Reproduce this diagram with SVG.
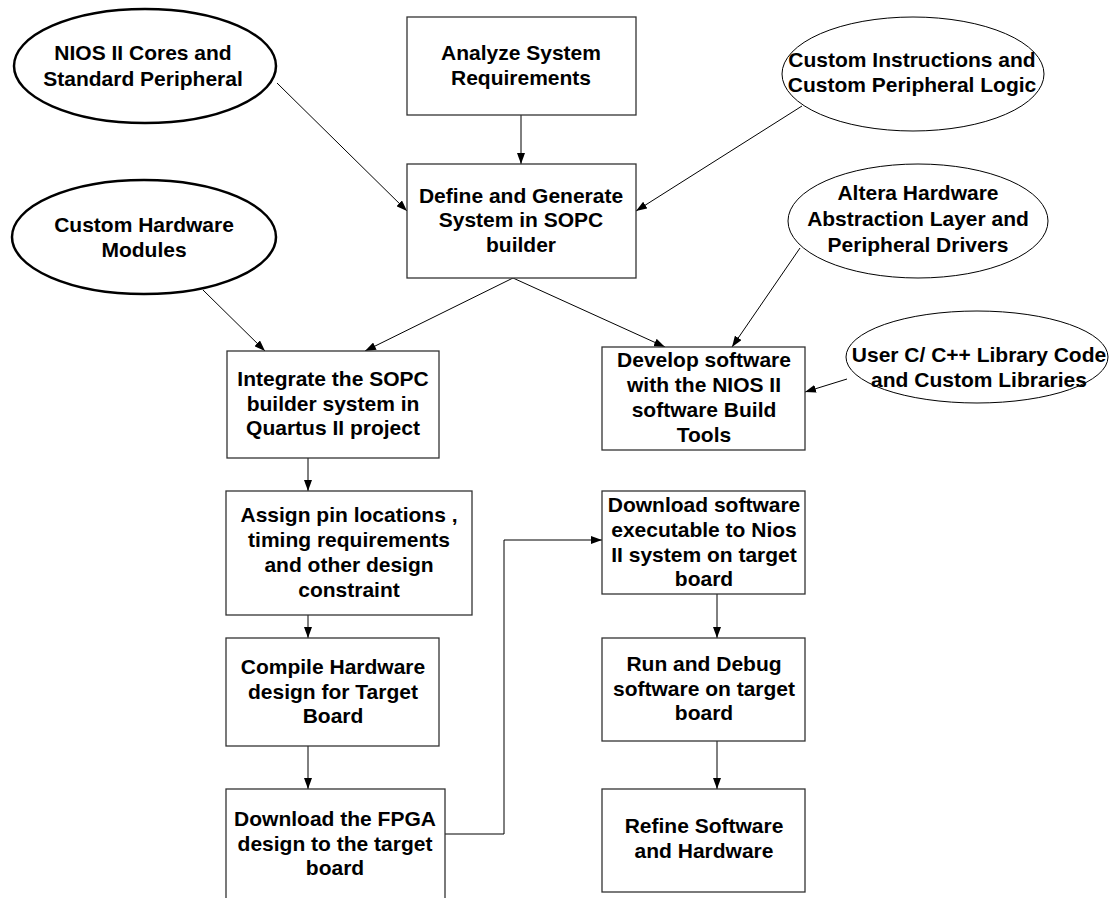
<svg xmlns="http://www.w3.org/2000/svg" width="1110" height="898" viewBox="0 0 1110 898">
<style>
.box{fill:#fff;stroke:#333;stroke-width:1.3}
.ell{fill:#fff;stroke:#000;stroke-width:1}
.ellb{fill:#fff;stroke:#000;stroke-width:2.5}
text{font-family:"Liberation Sans",Arial,sans-serif;font-size:21px;font-weight:bold;text-anchor:middle;fill:#000}
.c{fill:none;stroke:#000;stroke-width:1;marker-end:url(#ah)}
</style>
<defs>
<marker id="ah" markerUnits="userSpaceOnUse" markerWidth="11" markerHeight="8" refX="11" refY="4" orient="auto">
<path d="M0,0 L11,4 L0,8 z" fill="#000"/>
</marker>
</defs>
<rect width="1110" height="898" fill="#fff"/>
<g id="connectors">
<line class="c" x1="521" y1="115" x2="521" y2="164"/>
<line class="c" x1="277" y1="83" x2="407" y2="211"/>
<line class="c" x1="802" y1="106" x2="636" y2="211"/>
<line class="c" x1="513" y1="278" x2="365" y2="351"/>
<line class="c" x1="513" y1="278" x2="665" y2="347"/>
<line class="c" x1="203" y1="290" x2="265" y2="351"/>
<line class="c" x1="800" y1="248" x2="732" y2="347"/>
<line class="c" x1="847" y1="379" x2="805" y2="392"/>
<line class="c" x1="308" y1="445" x2="308" y2="491"/>
<line class="c" x1="308" y1="595" x2="308" y2="638"/>
<line class="c" x1="308" y1="733" x2="308" y2="789"/>
<polyline class="c" points="445,834 504,834 504,540 602,540"/>
<line class="c" x1="717" y1="587" x2="717" y2="638"/>
<line class="c" x1="717" y1="736" x2="717" y2="789"/>
</g>
<g id="nios">
<ellipse class="ellb" cx="145" cy="66" rx="131" ry="57"/>
<text x="143" y="60">NIOS II Cores and</text>
<text x="143" y="86">Standard Peripheral</text>
</g>
<g id="analyze">
<rect class="box" x="407" y="17" width="229" height="98"/>
<text x="521" y="60">Analyze System</text>
<text x="521" y="85">Requirements</text>
</g>
<g id="custominstr">
<ellipse class="ell" cx="913" cy="74" rx="131" ry="57"/>
<text x="912" y="67">Custom Instructions and</text>
<text x="912" y="92">Custom Peripheral Logic</text>
</g>
<g id="define">
<rect class="box" x="407" y="164" width="229" height="114"/>
<text x="521" y="203">Define and Generate</text>
<text x="521" y="227">System in SOPC</text>
<text x="521" y="252">builder</text>
</g>
<g id="customhw">
<ellipse class="ellb" cx="144" cy="237" rx="132" ry="57"/>
<text x="144" y="232">Custom Hardware</text>
<text x="144" y="257">Modules</text>
</g>
<g id="altera">
<ellipse class="ell" cx="918" cy="221" rx="130" ry="57"/>
<text x="918" y="200">Altera Hardware</text>
<text x="918" y="226">Abstraction Layer and</text>
<text x="918" y="252">Peripheral Drivers</text>
</g>
<g id="integrate">
<rect class="box" x="227" y="351" width="212" height="107"/>
<text x="333" y="386">Integrate the SOPC</text>
<text x="333" y="411">builder system in</text>
<text x="333" y="435">Quartus II project</text>
</g>
<g id="develop">
<rect class="box" x="602" y="347" width="203" height="103"/>
<text x="704" y="367">Develop software</text>
<text x="704" y="392">with the NIOS II</text>
<text x="704" y="417">software Build</text>
<text x="704" y="442">Tools</text>
</g>
<g id="userc">
<ellipse class="ell" cx="977" cy="357" rx="131" ry="46"/>
<text x="979" y="362">User C/ C++ Library Code</text>
<text x="979" y="387">and Custom Libraries</text>
</g>
<g id="assign">
<rect class="box" x="226" y="491" width="246" height="124"/>
<text x="349" y="522">Assign pin locations ,</text>
<text x="349" y="547">timing requirements</text>
<text x="349" y="572">and other design</text>
<text x="349" y="597">constraint</text>
</g>
<g id="compile">
<rect class="box" x="226" y="638" width="213" height="108"/>
<text x="333" y="674">Compile Hardware</text>
<text x="333" y="699">design for Target</text>
<text x="333" y="723">Board</text>
</g>
<g id="downloadfpga">
<rect class="box" x="226" y="789" width="219" height="130"/>
<text x="335" y="826">Download the FPGA</text>
<text x="335" y="851">design to the target</text>
<text x="335" y="875">board</text>
</g>
<g id="downloadsw">
<rect class="box" x="602" y="491" width="203" height="103"/>
<text x="704" y="512">Download software</text>
<text x="704" y="537">executable to Nios</text>
<text x="704" y="562">II system on target</text>
<text x="704" y="586">board</text>
</g>
<g id="run">
<rect class="box" x="602" y="638" width="203" height="103"/>
<text x="704" y="671">Run and Debug</text>
<text x="704" y="696">software on target</text>
<text x="704" y="720">board</text>
</g>
<g id="refine">
<rect class="box" x="602" y="789" width="203" height="103"/>
<text x="704" y="833">Refine Software</text>
<text x="704" y="858">and Hardware</text>
</g>
</svg>
